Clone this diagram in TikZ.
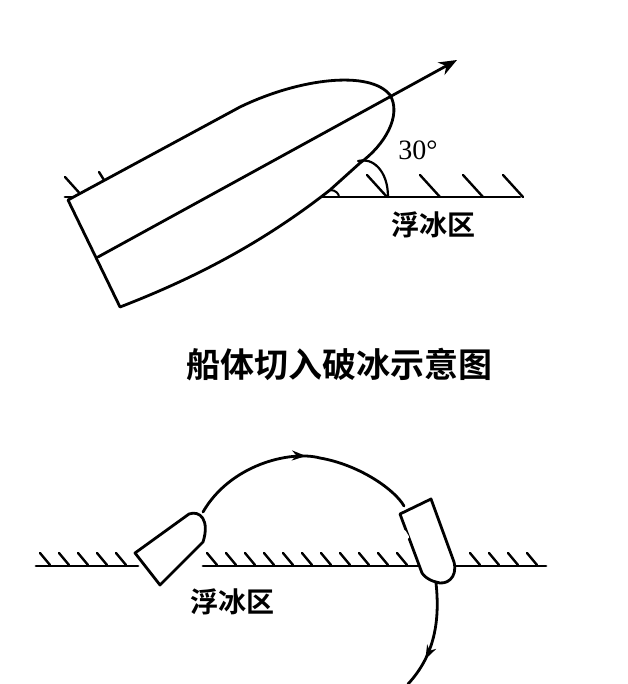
\documentclass[tikz,border=0pt]{standalone}
\usepackage{fontspec}
\newfontfamily\cjk{Noto Sans CJK SC}
\newfontfamily\cjkb{Noto Sans CJK SC Bold}
\setmainfont{Liberation Serif}
\usetikzlibrary{arrows.meta,decorations.markings}
\begin{document}
\begin{tikzpicture}[x=1pt,y=-1pt,line width=2.8pt,line cap=round,line join=round,
  hatch/.style={line width=2.4pt},
  midarrow/.style={postaction={decorate},decoration={markings,mark=at position #1 with {\arrow{Stealth[length=14pt,width=10pt]}}}}]
\useasboundingbox (0,0) rectangle (627,684);
% ---- top figure
\draw (65,197) -- (520,197);
\foreach \x in {367,420,463,503} \draw[hatch] (\x,175) -- (\x+20,197);
\draw[hatch] (65,177) -- (83,197);
\draw[hatch] (99,172) -- (104,180);
% ship hull
\draw[fill=white] (68,200) -- (240,107) .. controls (300,78) and (370,70) .. (390,95)
  .. controls (402,115) and (385,145) .. (360,163) -- (330,190) .. controls (260,245) and (190,280) .. (120,307) -- cycle;
\coordinate (ctr) at (98,257);
\coordinate (tip) at (457,60);
\draw[-{Stealth[length=18pt,width=14pt]}] (ctr) -- (tip);
% angle arcs
\draw[line width=2.2pt] (388,197) .. controls (388,170) and (372,157) .. (358,161);
\draw[line width=2pt] (330,190) .. controls (336,190) and (339,194) .. (339,197);
\node[font=\fontsize{28}{28}\selectfont] (ang) at (418,150) {30°};
\node[font=\cjkb\fontsize{28}{28}\selectfont] (ice1) at (433,225) {浮冰区};
\node[font=\cjkb\fontsize{34}{34}\selectfont] (title) at (339,365) {船体切入破冰示意图};
% ---- bottom figure
\draw (36,566) -- (138,566);
\draw (203,566) -- (546,566);
\foreach \x in {40,59,78,97,116} \draw[hatch] (\x,553) -- (\x+10,565);
\foreach \x in {207,226,245,264,283,302,321,340,359,378,397,416,470,489,508,527} \draw[hatch] (\x,553) -- (\x+10,565);
% left boat
\draw[fill=white] (135,553) -- (189,514) .. controls (200,510) and (210,520) .. (203,542) -- (160,585) -- cycle;
% right boat
\draw[fill=white] (400,514) -- (431,499) -- (454,562) .. controls (458,578) and (446,586) .. (436,582) .. controls (428,580) and (424,576) .. (422,573) -- cycle;
\draw[white,line width=4pt] (404,532) -- (407,537);
% path
\coordinate (a0) at (203,512);
\coordinate (a1) at (404,506);
\draw[midarrow=0.52] (a0) .. controls (230,465) and (290,450) .. (320,458) .. controls (360,465) and (395,490) .. (a1);
\coordinate (b0) at (436,583);
\coordinate (b1) at (408,684);
\draw[midarrow=0.72] (b0) .. controls (440,620) and (435,655) .. (b1);
\node[font=\cjkb\fontsize{28}{28}\selectfont] (ice2) at (232,602) {浮冰区};
\end{tikzpicture}
\end{document}
